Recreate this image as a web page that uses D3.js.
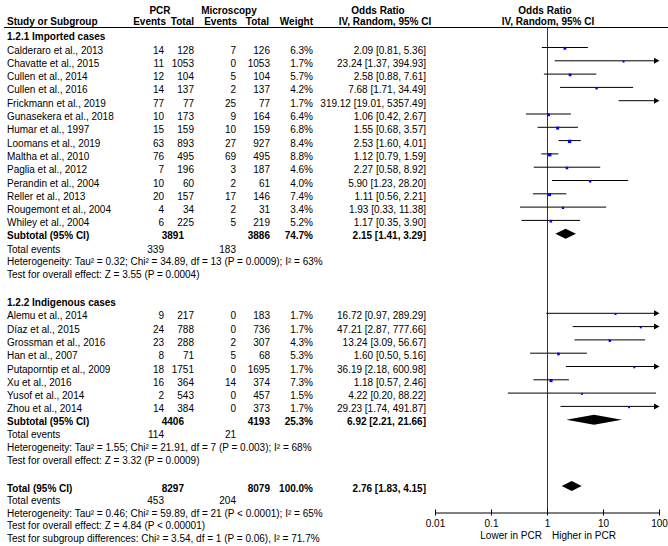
<!DOCTYPE html>
<html><head><meta charset="utf-8">
<script src="https://cdn.jsdelivr.net/npm/d3@7"></script>
<style>
body{margin:0;background:#fff;}
text{font-family:"Liberation Sans",Arial,sans-serif;font-size:10px;fill:#000;}
</style></head>
<body><svg id="c" width="668" height="546"></svg>
<script>
// ---------- data ----------
const studies1 = ["Calderaro et al., 2013","Chavatte et al., 2015","Cullen et al., 2014","Cullen et al., 2016","Frickmann et al., 2019","Gunasekera et al., 2018","Humar et al., 1997","Loomans et al., 2019","Maltha et al., 2010","Paglia et al., 2012","Perandin et al., 2004","Reller et al., 2013","Rougemont et al., 2004","Whiley et al., 2004"];
const pcrEvents1 = [14,11,12,14,77,10,15,63,76,7,10,20,4,6];
const pcrTotal1  = [128,1053,104,137,77,173,159,893,495,196,60,157,34,225];
const micEvents1 = [7,0,5,2,25,9,10,27,69,3,2,17,2,5];
const micTotal1  = [126,1053,104,137,77,164,159,927,495,187,61,146,31,219];
const weight1    = [6.3,1.7,5.7,4.2,1.7,6.4,6.8,8.4,8.8,4.6,4.0,7.4,3.4,5.2];
const or1  = [2.09,23.24,2.58,7.68,319.12,1.06,1.55,2.53,1.12,2.27,5.90,1.11,1.93,1.17];
const lo1  = [0.81,1.37,0.88,1.71,19.01,0.42,0.68,1.60,0.79,0.58,1.23,0.56,0.33,0.35];
const hi1  = [5.36,394.93,7.61,34.49,5357.49,2.67,3.57,4.01,1.59,8.92,28.20,2.21,11.38,3.90];
const subtotal1 = {pcrTotal:3891, micTotal:3886, weight:"74.7%", or:2.15, lo:1.41, hi:3.29, pcrEvents:339, micEvents:183};
const hetero1 = "Heterogeneity: Tau² = 0.32; Chi² = 34.89, df = 13 (P = 0.0009); I² = 63%";
const effect1 = "Test for overall effect: Z = 3.55 (P = 0.0004)";

const studies2 = ["Alemu et al., 2014","Díaz et al., 2015","Grossman et al., 2016","Han et al., 2007","Putaporntip et al., 2009","Xu et al., 2016","Yusof et al., 2014","Zhou et al., 2014"];
const pcrEvents2 = [9,24,23,8,18,16,2,14];
const pcrTotal2  = [217,788,288,71,1751,364,543,384];
const micEvents2 = [0,0,2,5,0,14,0,0];
const micTotal2  = [183,736,307,68,1695,374,457,373];
const weight2    = [1.7,1.7,4.3,5.3,1.7,7.3,1.5,1.7];
const or2  = [16.72,47.21,13.24,1.60,36.19,1.18,4.22,29.23];
const lo2  = [0.97,2.87,3.09,0.50,2.18,0.57,0.20,1.74];
const hi2  = [289.29,777.66,56.67,5.16,600.98,2.46,88.22,491.87];
const subtotal2 = {pcrTotal:4406, micTotal:4193, weight:"25.3%", or:6.92, lo:2.21, hi:21.66, pcrEvents:114, micEvents:21};
const hetero2 = "Heterogeneity: Tau² = 1.55; Chi² = 21.91, df = 7 (P = 0.003); I² = 68%";
const effect2 = "Test for overall effect: Z = 3.32 (P = 0.0009)";

const total = {pcrTotal:8297, micTotal:8079, weight:"100.0%", or:2.76, lo:1.83, hi:4.15, pcrEvents:453, micEvents:204};
const heteroT = "Heterogeneity: Tau² = 0.46; Chi² = 59.89, df = 21 (P < 0.0001); I² = 65%";
const effectT = "Test for overall effect: Z = 4.84 (P < 0.00001)";
const subgroupTest = "Test for subgroup differences: Chi² = 3.54, df = 1 (P = 0.06), I² = 71.7%";

const tickValues = [0.01,0.1,1,10,100];
const tickLabels = ["0.01","0.1","1","10","100"];

// ---------- drawing ----------
const svg = d3.select("#c");
const x = d3.scaleLog().domain([0.01,100]).range([435,659]);
const f2 = d => d.toFixed(2);
const ciText = (o,l,h) => `${f2(o)} [${f2(l)}, ${f2(h)}]`;

function txt(xp, yp, s, anchor, bold){
  svg.append("text").attr("x",xp).attr("y",yp).attr("text-anchor",anchor||"start")
    .style("font-weight",bold?"bold":"normal").text(s);
}

// column positions
const colStudy=7, colPE=164, colPT=194, colME=236, colMT=270, colW=313, colOR=426;

// headers
txt(160,13.5,"PCR","middle",true);
txt(229,13.5,"Microscopy","middle",true);
txt(378,13.5,"Odds Ratio","middle",true);
txt(545,13.5,"Odds Ratio","middle",true);
txt(colStudy,24.5,"Study or Subgroup","start",true);
txt(166,24.5,"Events","end",true);
txt(194,24.5,"Total","end",true);
txt(237,24.5,"Events","end",true);
txt(269,24.5,"Total","end",true);
txt(313,24.5,"Weight","end",true);
txt(385,24.5,"IV, Random, 95% CI","middle",true);
txt(548,24.5,"IV, Random, 95% CI","middle",true);
svg.append("line").attr("x1",4).attr("x2",668).attr("y1",27.5).attr("y2",27.5).attr("stroke","#000").attr("stroke-width",1);

// null line
svg.append("line").attr("x1",Math.round(x(1))+0.5).attr("x2",Math.round(x(1))+0.5)
  .attr("y1",28).attr("y2",512).attr("stroke","#333").attr("stroke-width",1);

function studyRow(y, name, pe, pt, me, mt, w, o, l, h){
  const b = y+6;
  txt(colStudy,b,name);
  txt(colPE,b,pe,"end"); txt(colPT,b,pt,"end");
  txt(colME,b,me,"end"); txt(colMT,b,mt,"end");
  txt(colW,b,w.toFixed(1)+"%","end");
  txt(colOR,b,ciText(o,l,h),"end");
  const x1 = x(Math.max(l,0.01)), x2 = x(Math.min(h,100));
  const arrow = h>100;
  svg.append("line").attr("x1",x1).attr("x2",arrow?x2-4:x2).attr("y1",y).attr("y2",y)
    .attr("stroke","#000").attr("stroke-width",1);
  if(arrow){
    svg.append("path").attr("d",`M${x2-5},${y-3}L${x2+0.5},${y}L${x2-5},${y+3}Z`).attr("fill","#000");
  }
  if(o<=100){
    const s = 1.6 + w*0.2;
    svg.append("rect").attr("x",x(o)-s/2).attr("y",y-s/2+0.8).attr("width",s).attr("height",s).attr("fill","#0000ff");
  }
}
function diamond(y, o, l, h, hh){
  svg.append("path").attr("d",`M${x(l)},${y}L${x(o)},${y-hh}L${x(h)},${y}L${x(o)},${y+hh}Z`).attr("fill","#000");
}
function subtotalRow(y, label, s){
  const b = y+5.5;
  txt(colStudy,b,label,"start",true);
  txt(184,b,s.pcrTotal,"end",true);
  txt(colMT,b,s.micTotal,"end",true);
  txt(colW,b,s.weight,"end",true);
  txt(colOR,b,ciText(s.or,s.lo,s.hi),"end",true);
  diamond(y,s.or,s.lo,s.hi,5);
}
function eventsRow(b, s){
  txt(colStudy,b,"Total events");
  txt(colPE,b,s.pcrEvents,"end");
  txt(colME,b,s.micEvents,"end");
}

// group 1
txt(colStudy,40,"1.2.1 Imported cases","start",true);
const g1y0 = 47.5, step = 13.3;
studies1.forEach((n,i)=>studyRow(g1y0+step*i,n,pcrEvents1[i],pcrTotal1[i],micEvents1[i],micTotal1[i],weight1[i],or1[i],lo1[i],hi1[i]));
subtotalRow(g1y0+step*14,"Subtotal (95% CI)",subtotal1);
eventsRow(252.5,subtotal1);
txt(colStudy,265,hetero1);
txt(colStudy,278,effect1);

// group 2
txt(colStudy,306,"1.2.2 Indigenous cases","start",true);
const g2y0 = 313.3;
studies2.forEach((n,i)=>studyRow(g2y0+step*i,n,pcrEvents2[i],pcrTotal2[i],micEvents2[i],micTotal2[i],weight2[i],or2[i],lo2[i],hi2[i]));
subtotalRow(g2y0+step*8,"Subtotal (95% CI)",subtotal2);
eventsRow(438,subtotal2);
txt(colStudy,450.5,hetero2);
txt(colStudy,463.5,effect2);

// overall
subtotalRow(486,"Total (95% CI)",total);
eventsRow(503.5,total);
txt(colStudy,516.5,heteroT);
txt(colStudy,529,effectT);
txt(colStudy,541.5,subgroupTest);

// axis
const axis = d3.axisBottom(x).tickValues(tickValues).tickFormat((d,i)=>tickLabels[i])
  .tickSize(3).tickSizeOuter(0).tickPadding(4);
const ag = svg.append("g").attr("transform","translate(0,512.5)").call(axis);
ag.selectAll(".tick line").attr("y1",-3).attr("y2",3).attr("stroke","#000");
ag.select(".domain").attr("stroke","#000");
ag.selectAll("text").style("font-family","'Liberation Sans',Arial,sans-serif").style("font-size","10px").attr("fill","#000");
txt(542,538.5,"Lower in PCR","end");
txt(552,538.5,"Higher in PCR","start");
</script></body></html>
